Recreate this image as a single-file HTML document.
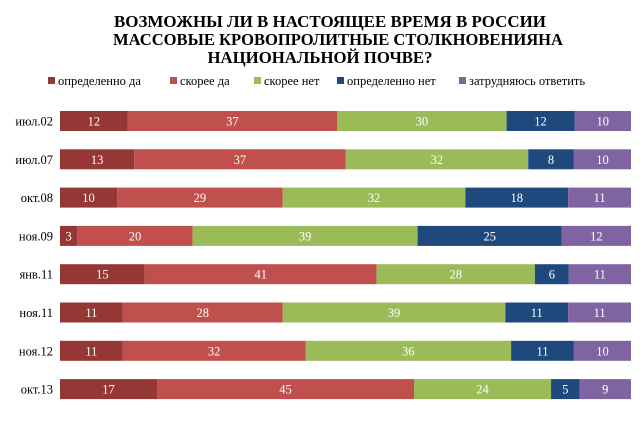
<!DOCTYPE html>
<html><head><meta charset="utf-8"><style>
body{margin:0;background:#fff;width:640px;height:419px;overflow:hidden;font-family:"Liberation Serif",serif}
</style></head><body>
<svg width="640" height="419" xmlns="http://www.w3.org/2000/svg" id="chart">
<g font-family="Liberation Serif, serif" font-weight="bold" font-size="17" text-anchor="middle" fill="#000">
<text x="330" y="27" textLength="432" lengthAdjust="spacingAndGlyphs">ВОЗМОЖНЫ ЛИ В НАСТОЯЩЕЕ ВРЕМЯ В РОССИИ</text>
<text x="338" y="45" textLength="450" lengthAdjust="spacingAndGlyphs">МАССОВЫЕ КРОВОПРОЛИТНЫЕ СТОЛКНОВЕНИЯНА</text>
<text x="320" y="63" textLength="225" lengthAdjust="spacingAndGlyphs">НАЦИОНАЛЬНОЙ ПОЧВЕ?</text>
</g>
<g id="legend"></g>
<g id="bars"></g>
</svg>
<script>
const categories=["июл.02","июл.07","окт.08","ноя.09","янв.11","ноя.11","ноя.12","окт.13"];
const seriesNames=["определенно да","скорее да","скорее нет","определенно нет","затрудняюсь ответить"];
const sDefYes=[12,13,10,3,15,11,11,17];
const sYes=[37,37,29,20,41,28,32,45];
const sNo=[30,32,32,39,28,39,36,24];
const sDefNo=[12,8,18,25,6,11,11,5];
const sHard=[10,10,11,12,11,11,10,9];
const series=[sDefYes,sYes,sNo,sDefNo,sHard];
const colors=["#953735","#C0504D","#9BBB59","#1F497D","#8064A2"];
const NS="http://www.w3.org/2000/svg";
const x0=60,x1=631,yTop=111,step=38.3,bh=20;
function mk(t,a,p){const e=document.createElementNS(NS,t);for(const k in a)e.setAttribute(k,a[k]);p.appendChild(e);return e;}
const leg=document.getElementById('legend');
const legX=[48,170,254,337,459];
seriesNames.forEach((n,i)=>{
 const g=mk('g',{},leg);
 
 
 mk('rect',{x:legX[i],y:77,width:7,height:7,fill:colors[i]},g);
 const t=mk('text',{x:legX[i]+10,y:85,'font-size':'12.5',fill:'#000'},g);t.textContent=n;
});
const bars=document.getElementById('bars');
categories.forEach((c,r)=>{
 const y=yTop+r*step;
 const lab=mk('text',{x:53,y:y+bh/2+4.5,'font-size':'12.5','text-anchor':'end',fill:'#000'},bars);
 
 
 lab.textContent=c;
 const tot=series.reduce((s,a)=>s+a[r],0);
 let cx=x0;
 series.forEach((a,i)=>{
  const w=a[r]/tot*(x1-x0);
  const rect=mk('rect',{x:cx,y:y,width:w,height:bh,fill:colors[i]},bars);
  
  
  const t=mk('text',{x:cx+w/2,y:y+bh/2+4.5,'font-size':'12.5','text-anchor':'middle',fill:'#fff'},bars);
  
  
  t.textContent=a[r];
  cx+=w;
 });
});
</script>
</body></html>
